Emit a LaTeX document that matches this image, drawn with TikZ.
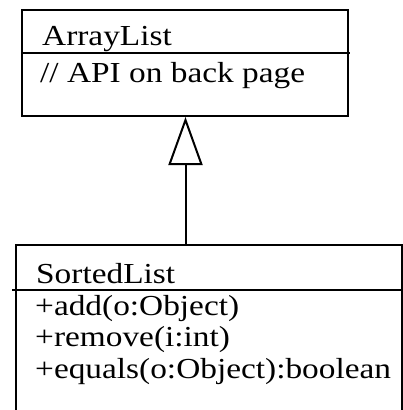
\documentclass[tikz,border=0pt]{standalone}
\usepackage{fontspec}
\setmainfont[FakeStretch=1.15]{Liberation Serif}
\usetikzlibrary{arrows.meta}
\begin{document}
\begin{tikzpicture}[x=1pt,y=-1pt,
  umlbox/.style={draw, line width=2pt, inner sep=0pt, anchor=north west},
  divider/.style={line width=2pt},
  txt/.style={anchor=base west, inner sep=0pt, font=\fontsize{29}{31}\selectfont},
  inherit/.style={line width=2pt, -{Triangle[open, width=34pt, length=48pt, line width=2pt]}}]
\useasboundingbox (0,0) rectangle (403,410);
\clip (0,0) rectangle (403,410);
\node[umlbox, minimum width=326pt, minimum height=106pt] (super) at (21,9) {};
\coordinate (sdl) at (21,53);
\coordinate (sdr) at (350,53);
\draw[divider] (sdl) -- (sdr);
\node[txt] (supername) at (42,45) {ArrayList};
\node[txt] (supernote) at (40,82) {// API on back page};
\node[umlbox, minimum width=386pt, minimum height=200pt] (sub) at (15,244) {};
\coordinate (bdl) at (12,290);
\coordinate (bdr) at (403,290);
\draw[divider] (bdl) -- (bdr);
\node[txt] (subname) at (36,283) {SortedList};
\node[txt] (m1) at (35,315) {+add(o:Object)};
\node[txt] (m2) at (35,346) {+remove(i:int)};
\node[txt] (m3) at (35,378) {+equals(o:Object):boolean};
\draw[inherit] (sub.north -| 185.5,0) -- (super.south -| 185.5,0);
\end{tikzpicture}
\end{document}
